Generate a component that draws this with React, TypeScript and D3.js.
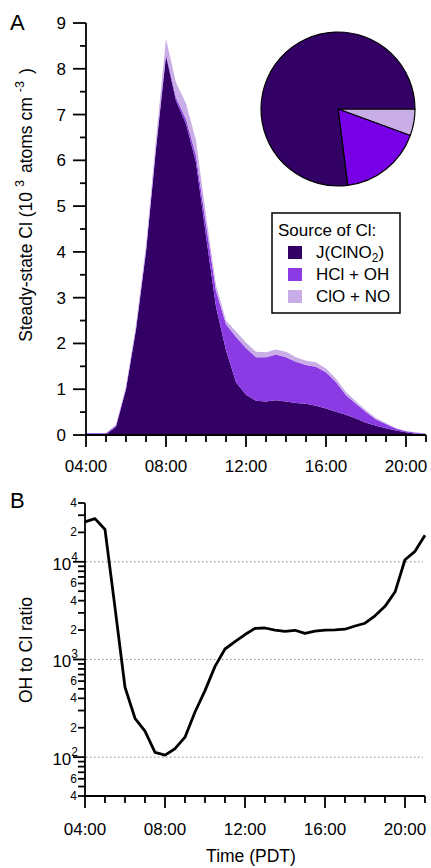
import React from "react";
import * as d3 from "d3";

// half-hourly time axis, hours of the day (PDT)
const hours = [4, 4.5, 5, 5.5, 6, 6.5, 7, 7.5, 8, 8.5, 9, 9.5, 10, 10.5, 11, 11.5, 12, 12.5, 13, 13.5, 14, 14.5, 15, 15.5, 16, 16.5, 17, 17.5, 18, 18.5, 19, 19.5, 20, 20.5, 21];

// steady-state Cl by source (10^3 atoms cm^-3)
const jClNO2 = [0.01, 0.01, 0.01, 0.18, 1.0, 2.3, 4.0, 6.25, 8.28, 7.3, 6.8, 5.95, 4.35, 2.8, 1.85, 1.15, 0.88, 0.75, 0.73, 0.76, 0.73, 0.7, 0.68, 0.64, 0.58, 0.51, 0.44, 0.36, 0.27, 0.2, 0.15, 0.1, 0.06, 0.03, 0.02];
const hclOH = [0.03, 0.03, 0.03, 0.02, 0.02, 0.03, 0.03, 0.04, 0.05, 0.07, 0.1, 0.15, 0.25, 0.35, 0.57, 0.99, 1.02, 0.95, 0.97, 1.0, 0.97, 0.9, 0.85, 0.85, 0.79, 0.65, 0.43, 0.32, 0.23, 0.14, 0.09, 0.04, 0.02, 0.02, 0.01];
const cloNO = [0, 0, 0, 0.03, 0.05, 0.08, 0.12, 0.18, 0.32, 0.33, 0.34, 0.34, 0.2, 0.12, 0.08, 0.12, 0.12, 0.12, 0.11, 0.11, 0.12, 0.1, 0.09, 0.1, 0.08, 0.07, 0.07, 0.05, 0.04, 0.03, 0.02, 0.01, 0.01, 0.01, 0];

// OH to Cl ratio
const ratioOHCl = [25600, 27700, 21400, 3400, 520, 250, 185, 112, 105, 122, 160, 290, 480, 850, 1280, 1520, 1800, 2080, 2100, 2000, 1940, 1990, 1850, 1950, 2000, 2010, 2040, 2200, 2350, 2800, 3500, 4900, 10500, 12800, 18700];

// pie, in percent, clockwise from 3 o'clock
const pieKeys = ["cloNO", "hclOH", "jClNO2"];
const pieShares = [5.6, 17.4, 77.0];

const timeTicks = [4, 8, 12, 16, 20];
const timeLabels = ["04:00", "08:00", "12:00", "16:00", "20:00"];
const yTicksA = [0, 1, 2, 3, 4, 5, 6, 7, 8, 9];

const areaColors: Record<string, string> = { jClNO2: "#330066", hclOH: "#8b3be4", cloNO: "#c9ade7" };
const pieColors: Record<string, string> = { jClNO2: "#330066", hclOH: "#7700e6", cloNO: "#c9ade7" };

const font = "'Liberation Sans', Arial, sans-serif";

export default function App() {
  const W = 431, H = 868;

  const xA = d3.scaleLinear().domain([4, 21]).range([86, 426]);
  const yA = d3.scaleLinear().domain([0, 9]).range([435, 23]);
  const xB = d3.scaleLinear().domain([4, 21]).range([85, 425]);
  const yB = d3.scaleLog().domain([40, 40000]).range([796, 503]);

  const rows = hours.map((h, i) => ({ h, jClNO2: jClNO2[i], hclOH: hclOH[i], cloNO: cloNO[i] }));
  const stacked = d3.stack<any>().keys(["jClNO2", "hclOH", "cloNO"])(rows);
  const area = d3.area<any>()
    .x((d) => xA(d.data.h))
    .y0((d) => yA(d[0]))
    .y1((d) => yA(d[1]));

  const line = d3.line<number>()
    .x((_, i) => xB(hours[i]))
    .y((d) => yB(d));

  const pie = d3.pie<number>().sort(null).startAngle(Math.PI / 2).endAngle(Math.PI / 2 + 2 * Math.PI)(pieShares);
  const arc = d3.arc<any>().innerRadius(0).outerRadius(77);

  const hourTicks = d3.range(4, 22);

  // log ticks for panel B
  const logTicks: { v: number; major: boolean; label: string | null }[] = [];
  [10, 100, 1000, 10000].forEach((dec) => {
    for (let m = 1; m <= 9; m++) {
      const v = m * dec;
      if (v < 40 || v > 40000) continue;
      logTicks.push({ v, major: m === 1, label: m === 1 ? "10" : [2, 4, 6].includes(m) ? String(m) : null });
    }
  });

  const legend = [
    { key: "jClNO2", label: <>J(ClNO<tspan dy={4} fontSize={12}>2</tspan><tspan dy={-4}>)</tspan></> },
    { key: "hclOH", label: <>HCl + OH</> },
    { key: "cloNO", label: <>ClO + NO</> },
  ];

  return (
    <svg width={W} height={H} style={{ position: "absolute", left: 0, top: 0, background: "#fff" }} fontFamily={font}>
      {/* Panel A */}
      <text x={10} y={30} fontSize={22}>A</text>
      <g>
        {stacked.map((s) => (
          <path key={s.key} d={area(s) || ""} fill={areaColors[s.key]} />
        ))}
      </g>
      {/* pie */}
      <g transform="translate(338,109)">
        {pie.map((p, i) => (
          <path key={i} d={arc(p) || ""} fill={pieColors[pieKeys[i]]} stroke="#000" strokeWidth={1.2} strokeLinejoin="round" />
        ))}
      </g>
      {/* legend */}
      <g>
        <rect x={272} y={213} width={128} height={100} fill="#fff" stroke="#000" strokeWidth={1.5} />
        <text x={278} y={236} fontSize={17}>Source of Cl:</text>
        {legend.map((l, i) => (
          <g key={l.key}>
            <rect x={288} y={246 + i * 22} width={14} height={13} fill={areaColors[l.key]} />
            <text x={316} y={258 + i * 22} fontSize={17}>{l.label}</text>
          </g>
        ))}
      </g>
      {/* axes A */}
      <g stroke="#000" strokeWidth={1.8}>
        <line x1={86} x2={86} y1={yA(9)} y2={yA(0)} />
        <line x1={86} x2={426} y1={435} y2={435} />
        {d3.range(0, 9.01, 0.5).map((v) => (
          <line key={v} x1={86} x2={Number.isInteger(v) ? 73 : 80} y1={yA(v)} y2={yA(v)} />
        ))}
        {hourTicks.map((h) => (
          <line key={h} x1={xA(h)} x2={xA(h)} y1={435} y2={timeTicks.includes(h) ? 447 : 442} />
        ))}
      </g>
      <g fontSize={17} textAnchor="end">
        {yTicksA.map((v) => (
          <text key={v} x={66} y={yA(v) + 6}>{v}</text>
        ))}
      </g>
      <g fontSize={17} textAnchor="middle">
        {timeTicks.map((h, i) => (
          <text key={h} x={xA(h)} y={472}>{timeLabels[i]}</text>
        ))}
      </g>
      <text transform="translate(32,205) rotate(-90)" fontSize={17.5} textAnchor="middle">
        Steady-state Cl (10<tspan dx={5} dy={-8} fontSize={12.5}>3</tspan><tspan dx={7} dy={8}>atoms cm</tspan><tspan dx={5} dy={-8} fontSize={12.5}>-3</tspan><tspan dx={7} dy={8}>)</tspan>
      </text>

      {/* Panel B */}
      <text x={10} y={508} fontSize={22}>B</text>
      <g stroke="#8a8a8a" strokeWidth={1} strokeDasharray="1.5 2.5">
        {[100, 1000, 10000].map((v) => (
          <line key={v} x1={86} x2={423} y1={yB(v)} y2={yB(v)} />
        ))}
      </g>
      <path d={line(ratioOHCl) || ""} fill="none" stroke="#000" strokeWidth={2.8} strokeLinejoin="round" />
      <g stroke="#000" strokeWidth={1.8}>
        <line x1={85} x2={85} y1={503} y2={796} />
        <line x1={85} x2={425} y1={796} y2={796} />
        {logTicks.map((t) => (
          <line key={t.v} x1={85} x2={t.major ? 73 : 78} y1={yB(t.v)} y2={yB(t.v)} />
        ))}
        {hourTicks.map((h) => (
          <line key={h} x1={xB(h)} x2={xB(h)} y1={796} y2={timeTicks.includes(h) ? 808 : 803} />
        ))}
      </g>
      <g textAnchor="end">
        {logTicks.filter((t) => t.label).map((t) =>
          t.major ? (
            <text key={t.v} x={78} y={yB(t.v) + 8} fontSize={17}>
              10<tspan dy={-9} fontSize={12}>{Math.round(Math.log10(t.v))}</tspan>
            </text>
          ) : (
            <text key={t.v} x={77} y={yB(t.v) + 4} fontSize={12}>{t.label}</text>
          )
        )}
      </g>
      <g fontSize={17} textAnchor="middle">
        {timeTicks.map((h, i) => (
          <text key={h} x={xB(h)} y={835}>{timeLabels[i]}</text>
        ))}
      </g>
      <text transform="translate(32,650) rotate(-90)" fontSize={17.5} textAnchor="middle">OH to Cl ratio</text>
      <text x={251} y={862} fontSize={17.5} textAnchor="middle">Time (PDT)</text>
    </svg>
  );
}
